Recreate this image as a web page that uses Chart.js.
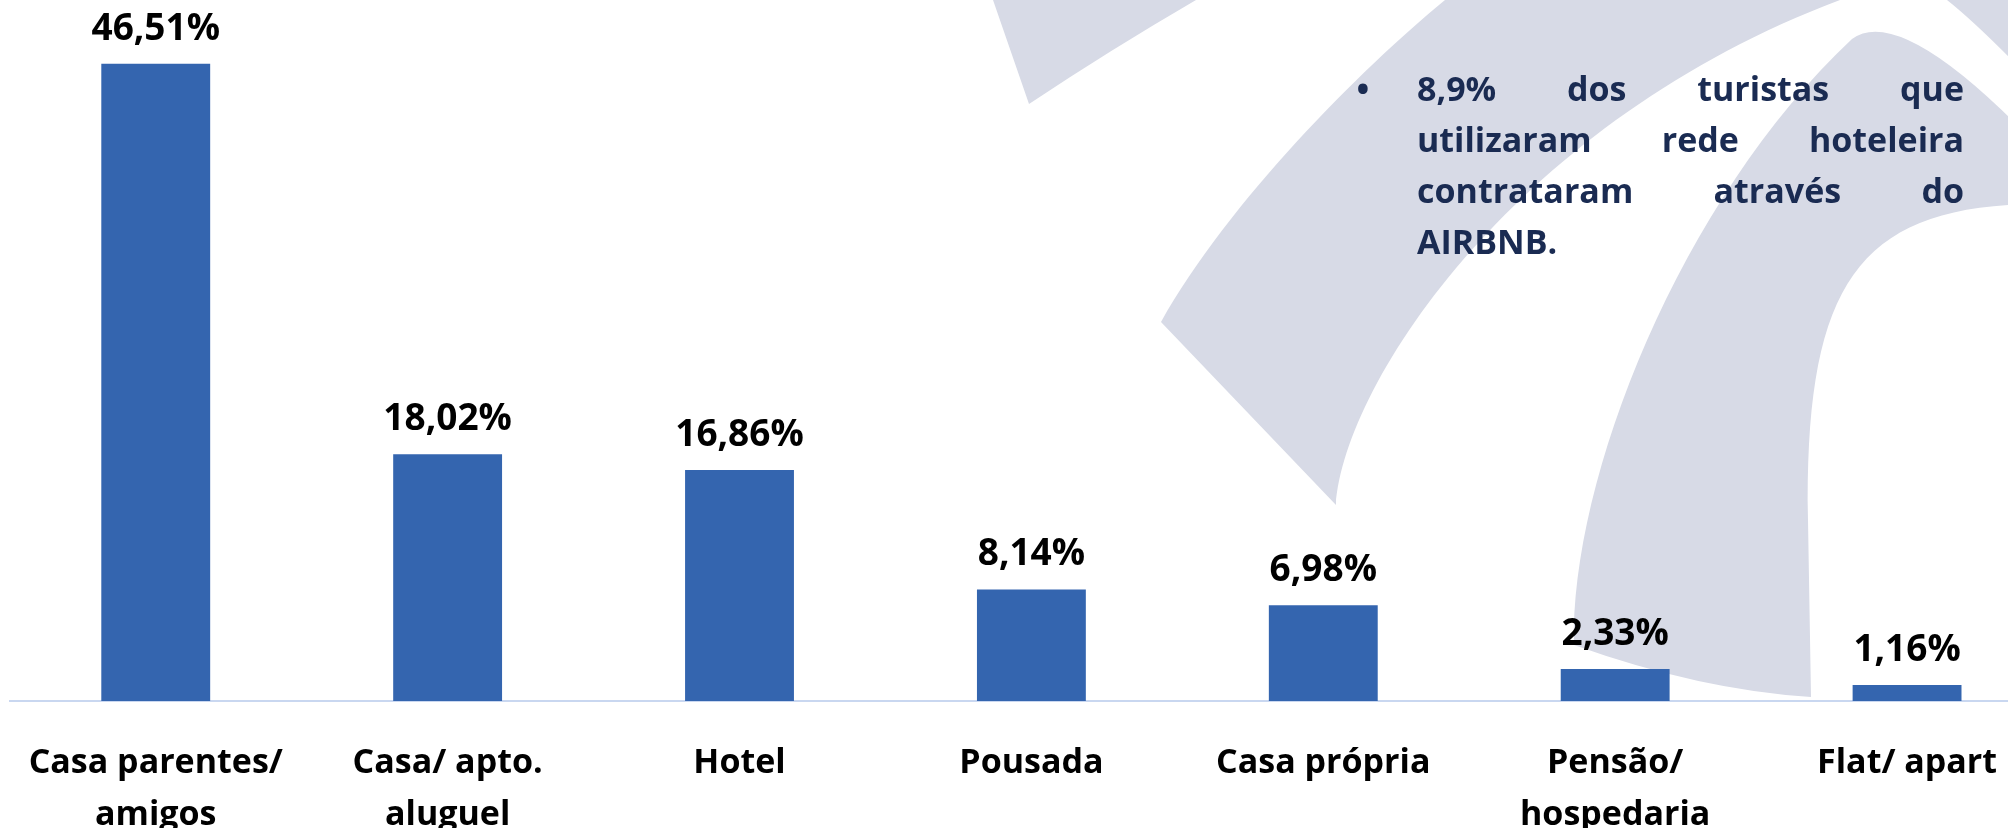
<!DOCTYPE html>
<html lang="pt-BR">
<head>
<meta charset="utf-8">
<title>Meio de hospedagem</title>
<script src="https://cdn.jsdelivr.net/npm/chart.js@4.4.1/dist/chart.umd.min.js"></script>
<style>
    html, body { margin: 0; padding: 0; background: #fff; overflow: hidden; }
    body { width: 2008px; height: 828px; position: relative; }
    #wrap { position: absolute; left: 0; top: 0; width: 2060px; height: 828px; }
    .note {
        position: absolute;
        left: 1417px;
        top: 63px;
        width: 547px;
        font-family: 'Open Sans', sans-serif;
        font-weight: 700;
        font-size: 34px;
        line-height: 51px;
        color: #1a2b52;
    }
    .note div { text-align: justify; text-align-last: justify; white-space: nowrap; }
    .note div.last { text-align: left; text-align-last: left; }
    .bullet {
        position: absolute;
        left: 1348px;
        top: 63px;
        width: 30px;
        text-align: center;
        font-family: 'Open Sans', sans-serif;
        font-weight: 700;
        font-size: 34px;
        line-height: 51px;
        color: #1a2b52;
    }
</style>
</head>
<body>
<div id="wrap"><canvas id="chart" width="2060" height="828"></canvas></div>
<div class="bullet">•</div>
<div class="note">
    <div>8,9% dos turistas que</div>
    <div>utilizaram rede hoteleira</div>
    <div>contrataram através do</div>
    <div class="last">AIRBNB.</div>
</div>
<script>
// Dados
const categories = [
    ['Casa parentes/', 'amigos'],
    ['Casa/ apto.', 'aluguel'],
    'Hotel',
    'Pousada',
    'Casa própria',
    ['Pensão/', 'hospedaria'],
    'Flat/ apart'
];
const shares = [46.51, 18.02, 16.86, 8.14, 6.98, 2.33, 1.16];

const BAR_COLOR = '#3465af';
const WATERMARK = '#d7dae6';

// Marca d'água ao fundo (apenas decoração)
const watermarkPlugin = {
    id: 'watermark',
    beforeDraw: (chart) => {
        const { ctx, width, height } = chart;
        ctx.save();
        ctx.fillStyle = '#ffffff';
        ctx.fillRect(0, 0, width, height);
        ctx.fillStyle = WATERMARK;

        // cunha superior
        ctx.beginPath();
        ctx.moveTo(993, 0);
        ctx.lineTo(1196, 0);
        ctx.quadraticCurveTo(1110, 50, 1029, 104);
        ctx.closePath();
        ctx.fill();

        // faixa curva da esquerda
        ctx.beginPath();
        ctx.moveTo(1445, 0);
        ctx.bezierCurveTo(1360, 70, 1230, 200, 1161, 322);
        ctx.lineTo(1336, 505);
        ctx.bezierCurveTo(1345, 380, 1520, 120, 1840, 0);
        ctx.closePath();
        ctx.fill();

        // arco central
        ctx.beginPath();
        ctx.moveTo(1574, 645);
        ctx.bezierCurveTo(1570, 480, 1680, 200, 1852, 39);
        ctx.quadraticCurveTo(1905, 0, 2060, 170);
        ctx.lineTo(2060, 205);
        ctx.lineTo(2008, 205);
        ctx.bezierCurveTo(1850, 215, 1805, 300, 1808, 520);
        ctx.lineTo(1811, 697);
        ctx.quadraticCurveTo(1700, 690, 1574, 645);
        ctx.closePath();
        ctx.fill();

        // canto superior direito
        ctx.beginPath();
        ctx.moveTo(1947, 0);
        ctx.quadraticCurveTo(1985, 30, 2060, 110);
        ctx.lineTo(2060, 0);
        ctx.closePath();
        ctx.fill();

        ctx.restore();
    }
};

// Rótulos de valor acima das barras
const valueLabels = {
    id: 'valueLabels',
    afterDatasetsDraw: (chart) => {
        const { ctx } = chart;
        const meta = chart.getDatasetMeta(0);
        ctx.save();
        ctx.font = "bold 37px 'Open Sans', sans-serif";
        ctx.fillStyle = '#000';
        ctx.textAlign = 'center';
        ctx.textBaseline = 'alphabetic';
        meta.data.forEach((bar, i) => {
            const txt = shares[i].toFixed(2).replace('.', ',') + '%';
            ctx.fillText(txt, bar.x, bar.y - 24);
        });
        ctx.restore();
    }
};

new Chart(document.getElementById('chart'), {
    type: 'bar',
    plugins: [watermarkPlugin, valueLabels],
    data: {
        labels: categories,
        datasets: [{
            data: shares,
            backgroundColor: BAR_COLOR,
            borderWidth: 0,
            categoryPercentage: 1,
            barPercentage: 0.373
        }]
    },
    options: {
        responsive: false,
        animation: false,
        events: [],
        layout: { padding: { left: 9, right: 7, top: 16, bottom: 0 } },
        plugins: {
            legend: { display: false },
            tooltip: { enabled: false }
        },
        scales: {
            x: {
                grid: { display: false },
                border: { display: true, color: '#c9d7f0', width: 2 },
                ticks: {
                    color: '#000',
                    padding: 28,
                    maxRotation: 0,
                    autoSkip: false,
                    font: { family: "'Open Sans', sans-serif", size: 34, weight: 'bold', lineHeight: 1.53 }
                },
                afterFit: (scale) => { scale.height = 127; }
            },
            y: {
                display: false,
                min: 0,
                max: 50
            }
        }
    }
});
</script>
</body>
</html>
